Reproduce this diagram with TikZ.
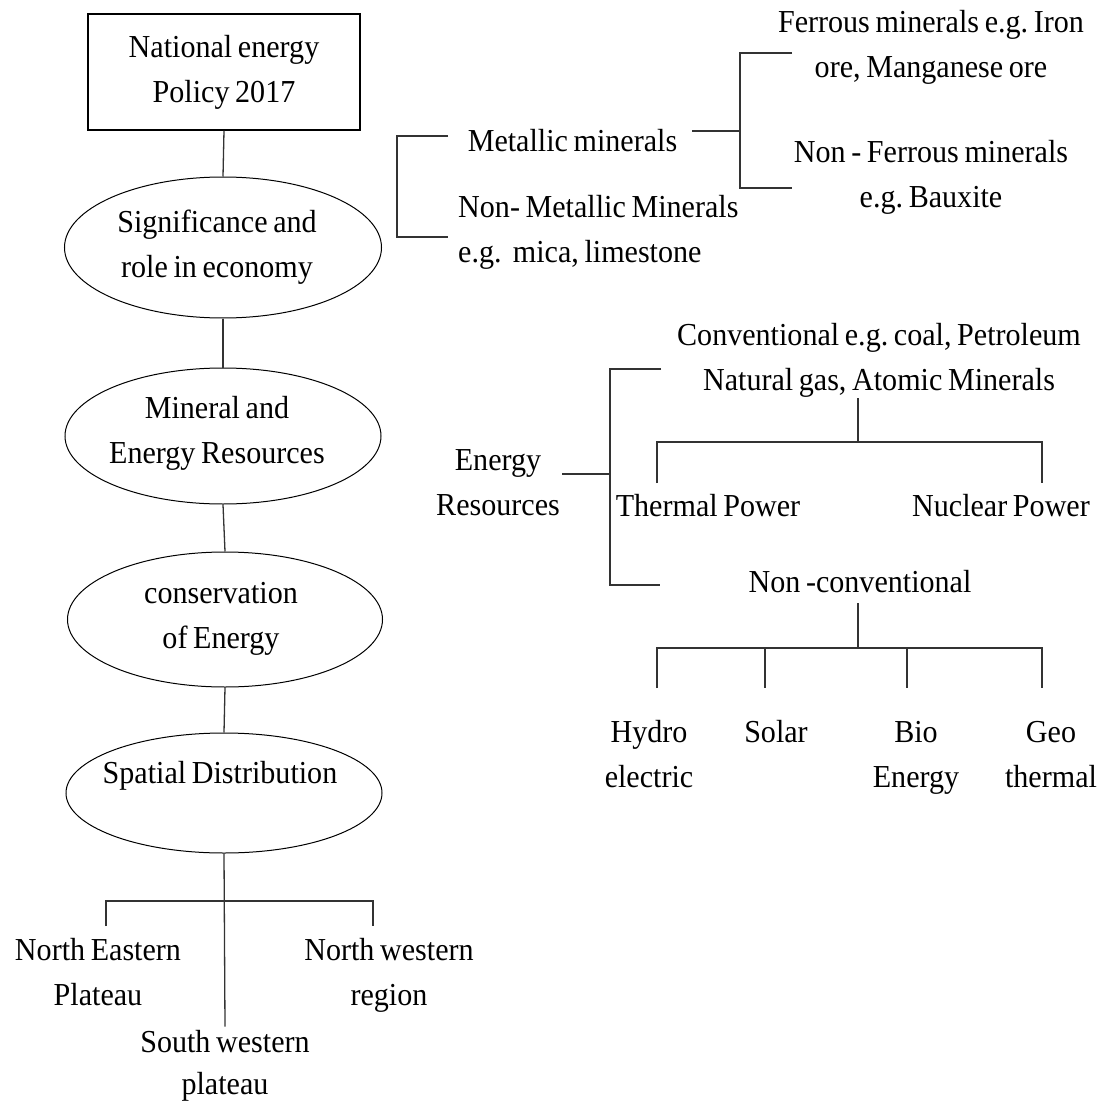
\documentclass[tikz,border=0pt]{standalone}
\usepackage{fontspec}
\setmainfont{Liberation Serif}[FakeStretch=0.94, WordSpace=0.75]
\usetikzlibrary{shapes.geometric}
\frenchspacing
\newcommand\twoline[2]{\vtop{\halign{\hfil##\hfil\cr #1\cr #2\cr}}}
\newcommand\twolinel[2]{\vtop{\halign{##\hfil\cr #1\cr #2\cr}}}
\begin{document}
\begin{tikzpicture}[x=1pt,y=-1pt,
  lbl/.style={font=\fontsize{32}{45}\selectfont, inner sep=3pt, anchor=base},
  oval/.style={draw=black, ellipse, line width=1pt, inner sep=0pt},
  conn/.style={line width=1.3pt, draw=black!80}]
\useasboundingbox[fill=white] (0,0) rectangle (1111,1102);

% ---- left column ----
\node[draw=black, line width=1.2pt, minimum width=272pt, minimum height=116pt, inner sep=0pt] (box) at (224,72) {};
\node[lbl] (tbox) at (224,58) {\twoline{National energy}{Policy 2017}};

\node[oval, minimum width=317pt, minimum height=141pt] (e1) at (223,247.5) {};
\node[lbl] (t1) at (217,233) {\twoline{Significance and}{role in economy}};

\node[oval, minimum width=316pt, minimum height=136pt] (e2) at (223,436) {};
\node[lbl] (t2) at (217,418) {\twoline{Mineral and}{Energy Resources}};

\node[oval, minimum width=315pt, minimum height=135pt] (e3) at (225,619.5) {};
\node[lbl] (t3) at (221,603) {\twoline{conservation}{of Energy}};

\node[oval, minimum width=316pt, minimum height=120pt] (e4) at (224,793) {};
\node[lbl] (t4) at (220,783) {Spatial Distribution};

\draw[conn] (box.south) -- (e1.north);
\draw[conn] (e1.south) -- (e2.north);
\draw[conn] (e2.south) -- (e3.north);
\draw[conn] (e3.south) -- (e4.north);

% ---- regions ----
\node[lbl] (ne) at (98,960) {\twoline{North Eastern}{Plateau}};
\node[lbl] (nw) at (389,960) {\twoline{North western}{region}};
\node[lbl, font=\fontsize{32}{42}\selectfont] (sw) at (225,1052) {\twoline{South western}{plateau}};
\coordinate (bj) at (225,901);
\coordinate (neT) at (106,926);
\coordinate (nwT) at (373,926);
\draw[conn] (e4.south) -- (sw.north);
\draw[conn] (neT) -- (neT |- bj) -- (nwT |- bj) -- (nwT);

% ---- minerals ----
\node[lbl] (mm) at (572.5,152) {Metallic minerals};
\node[lbl, anchor=base west] (nmm) at (455,218) {\twolinel{Non- Metallic Minerals}{e.g.\ \ mica, limestone}};
\node[lbl] (fer) at (931,33) {\twoline{Ferrous minerals e.g. Iron}{ore, Manganese ore}};
\node[lbl] (nfer) at (931,163) {\twoline{Non - Ferrous minerals}{e.g. Bauxite}};

\coordinate (lbT) at (448,136);
\coordinate (lbB) at (448,237);
\draw[conn] (lbT) -- (397,136) -- (397,237) -- (lbB);
\coordinate (mmR) at (692,131);
\coordinate (rbM) at (740,131);
\draw[conn] (mmR) -- (rbM);
\coordinate (rbT) at (792,53);
\coordinate (rbB) at (792,188);
\draw[conn] (rbT) -- (740,53) -- (740,188) -- (rbB);

% ---- energy ----
\node[lbl] (er) at (498,470) {\twoline{Energy}{Resources}};
\coordinate (erR) at (562,474);
\coordinate (ebM) at (610,474);
\draw[conn] (erR) -- (ebM);
\coordinate (ebT) at (661,369);
\coordinate (ebB) at (660,585);
\draw[conn] (ebT) -- (610,369) -- (610,585) -- (ebB);

\node[lbl] (conv) at (879,345) {\twoline{Conventional e.g. coal, Petroleum}{Natural gas, Atomic Minerals}};
\coordinate (cvS) at (858,398);
\coordinate (cvJ) at (858,442);
\draw[conn] (cvS) -- (cvJ);
\draw[conn] (657,483) -- (657,442) -- (1042,442) -- (1042,483);
\node[lbl] (th) at (708,516) {Thermal Power};
\node[lbl] (nu) at (1001,516) {Nuclear Power};

\node[lbl] (nc) at (860,592) {Non -conventional};
\coordinate (ncS) at (858,603);
\coordinate (ncJ) at (858,648);
\draw[conn] (ncS) -- (ncJ);
\draw[conn] (657,688) -- (657,648) -- (1042,648) -- (1042,688);
\draw[conn] (765,648) -- (765,688);
\draw[conn] (907,648) -- (907,688);
\node[lbl] (hy) at (649,742) {\twoline{Hydro}{electric}};
\node[lbl] (so) at (776,742) {Solar};
\node[lbl] (bio) at (916,742) {\twoline{Bio}{Energy}};
\node[lbl] (geo) at (1051,742) {\twoline{Geo}{thermal}};
\end{tikzpicture}
\end{document}
